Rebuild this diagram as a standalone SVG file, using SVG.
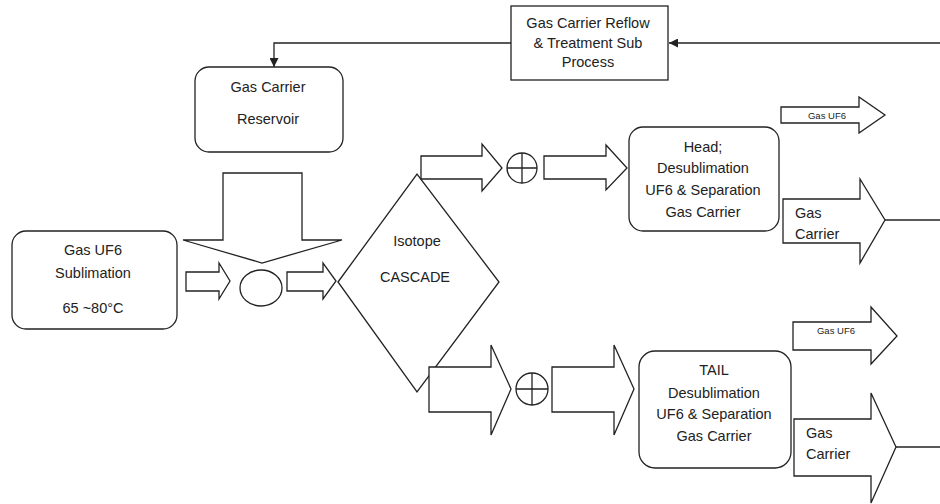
<svg xmlns="http://www.w3.org/2000/svg" width="940" height="504" viewBox="0 0 940 504">
<style>
.s{fill:#fff;stroke:#222;stroke-width:1.3}
.c{fill:none;stroke:#222;stroke-width:1.3}
.t{font-family:"Liberation Sans",Arial,sans-serif;font-size:14.5px;fill:#222;text-anchor:middle}
.l{text-anchor:start}
.sm{font-size:9.5px}
</style>
<defs>
<marker id="ah" markerUnits="userSpaceOnUse" markerWidth="9" markerHeight="9" refX="9" refY="4.5" orient="auto">
<path d="M0,0 L9,4.5 L0,9 Z" fill="#222"/>
</marker>
</defs>
<rect width="940" height="504" fill="#fff"/>

<g id="connectors">
<path class="c" d="M940,43 H669" marker-end="url(#ah)"/>
<path class="c" d="M511,43 H274 V67" marker-end="url(#ah)"/>
<path class="c" d="M885,220 H940"/>
<path class="c" d="M896,447 H940"/>
</g>

<g id="reflow">
<rect class="s" x="511" y="6" width="157" height="74"/>
<text class="t" x="588" y="28">Gas Carrier Reflow</text>
<text class="t" x="588" y="48">&amp; Treatment Sub</text>
<text class="t" x="588" y="67">Process</text>
</g>

<g id="reservoir">
<rect class="s" x="195" y="67" width="148" height="85" rx="14"/>
<text class="t" x="268" y="92">Gas Carrier</text>
<text class="t" x="268" y="124">Reservoir</text>
</g>

<g id="sublimation">
<rect class="s" x="12" y="231" width="165" height="98" rx="14"/>
<text class="t" x="93" y="255">Gas UF6</text>
<text class="t" x="93" y="278">Sublimation</text>
<text class="t" x="93" y="313">65 ~80°C</text>
</g>

<g id="feed-arrow">
<path class="s" d="M223,173 H302 V240 H342 L262,263 L183,240 H223 Z"/>
</g>

<g id="arrow-in1">
<path class="s" d="M186,272 H219 V263 L230,281 L219,299 V291 H186 Z"/>
</g>
<g id="mixer">
<ellipse class="s" cx="261" cy="288" rx="21" ry="18"/>
</g>
<g id="arrow-in2">
<path class="s" d="M287,272 H323 V263 L336,281 L323,299 V291 H287 Z"/>
</g>

<g id="cascade">
<path class="s" d="M338,282 L417,174 L499,282 L417,392 Z"/>
<text class="t" x="417" y="246">Isotope</text>
<text class="t" x="415" y="282">CASCADE</text>
</g>

<g id="head-arrow1">
<path class="s" d="M421,156 H482 V144 L502,168 L482,191 V179 H421 Z"/>
</g>
<g id="head-junction">
<circle class="s" cx="522" cy="168" r="15"/>
<path class="c" d="M507,168 H537 M522,153 V183"/>
</g>
<g id="head-arrow2">
<path class="s" d="M544,156 H606 V145 L627,168 L606,190 V179 H544 Z"/>
</g>
<g id="head">
<rect class="s" x="629" y="127" width="150" height="104" rx="14"/>
<text class="t" x="703" y="152">Head;</text>
<text class="t" x="703" y="173">Desublimation</text>
<text class="t" x="703" y="195">UF6 &amp; Separation</text>
<text class="t" x="703" y="217">Gas Carrier</text>
</g>
<g id="head-uf6">
<path class="s" d="M781,107 H859 V97 L885,115 L859,133 V123 H781 Z"/>
<text class="t sm" x="827" y="119">Gas UF6</text>
</g>
<g id="head-carrier">
<path class="s" d="M783,199 H860 V179 L885,220 L860,263 V243 H783 Z"/>
<text class="t l" x="795" y="218">Gas</text>
<text class="t l" x="795" y="239">Carrier</text>
</g>

<g id="tail-arrow1">
<path class="s" d="M429,367 H491 V345 L511,389 L491,435 V412 H429 Z"/>
</g>
<g id="tail-junction">
<circle class="s" cx="532" cy="389" r="16"/>
<path class="c" d="M516,389 H548 M532,373 V405"/>
</g>
<g id="tail-arrow2">
<path class="s" d="M552,367 H614 V345 L634,389 L614,435 V412 H552 Z"/>
</g>
<g id="tail">
<rect class="s" x="639" y="351" width="152" height="117" rx="16"/>
<text class="t" x="714" y="375">TAIL</text>
<text class="t" x="714" y="398">Desublimation</text>
<text class="t" x="714" y="419">UF6 &amp; Separation</text>
<text class="t" x="714" y="441">Gas Carrier</text>
</g>
<g id="tail-uf6">
<path class="s" d="M793,322 H871 V307 L897,336 L871,364 V350 H793 Z"/>
<text class="t sm" x="836" y="334">Gas UF6</text>
</g>
<g id="tail-carrier">
<path class="s" d="M794,419 H871 V393 L896,447 L871,503 V476 H794 Z"/>
<text class="t l" x="806" y="438">Gas</text>
<text class="t l" x="806" y="459">Carrier</text>
</g>
</svg>
